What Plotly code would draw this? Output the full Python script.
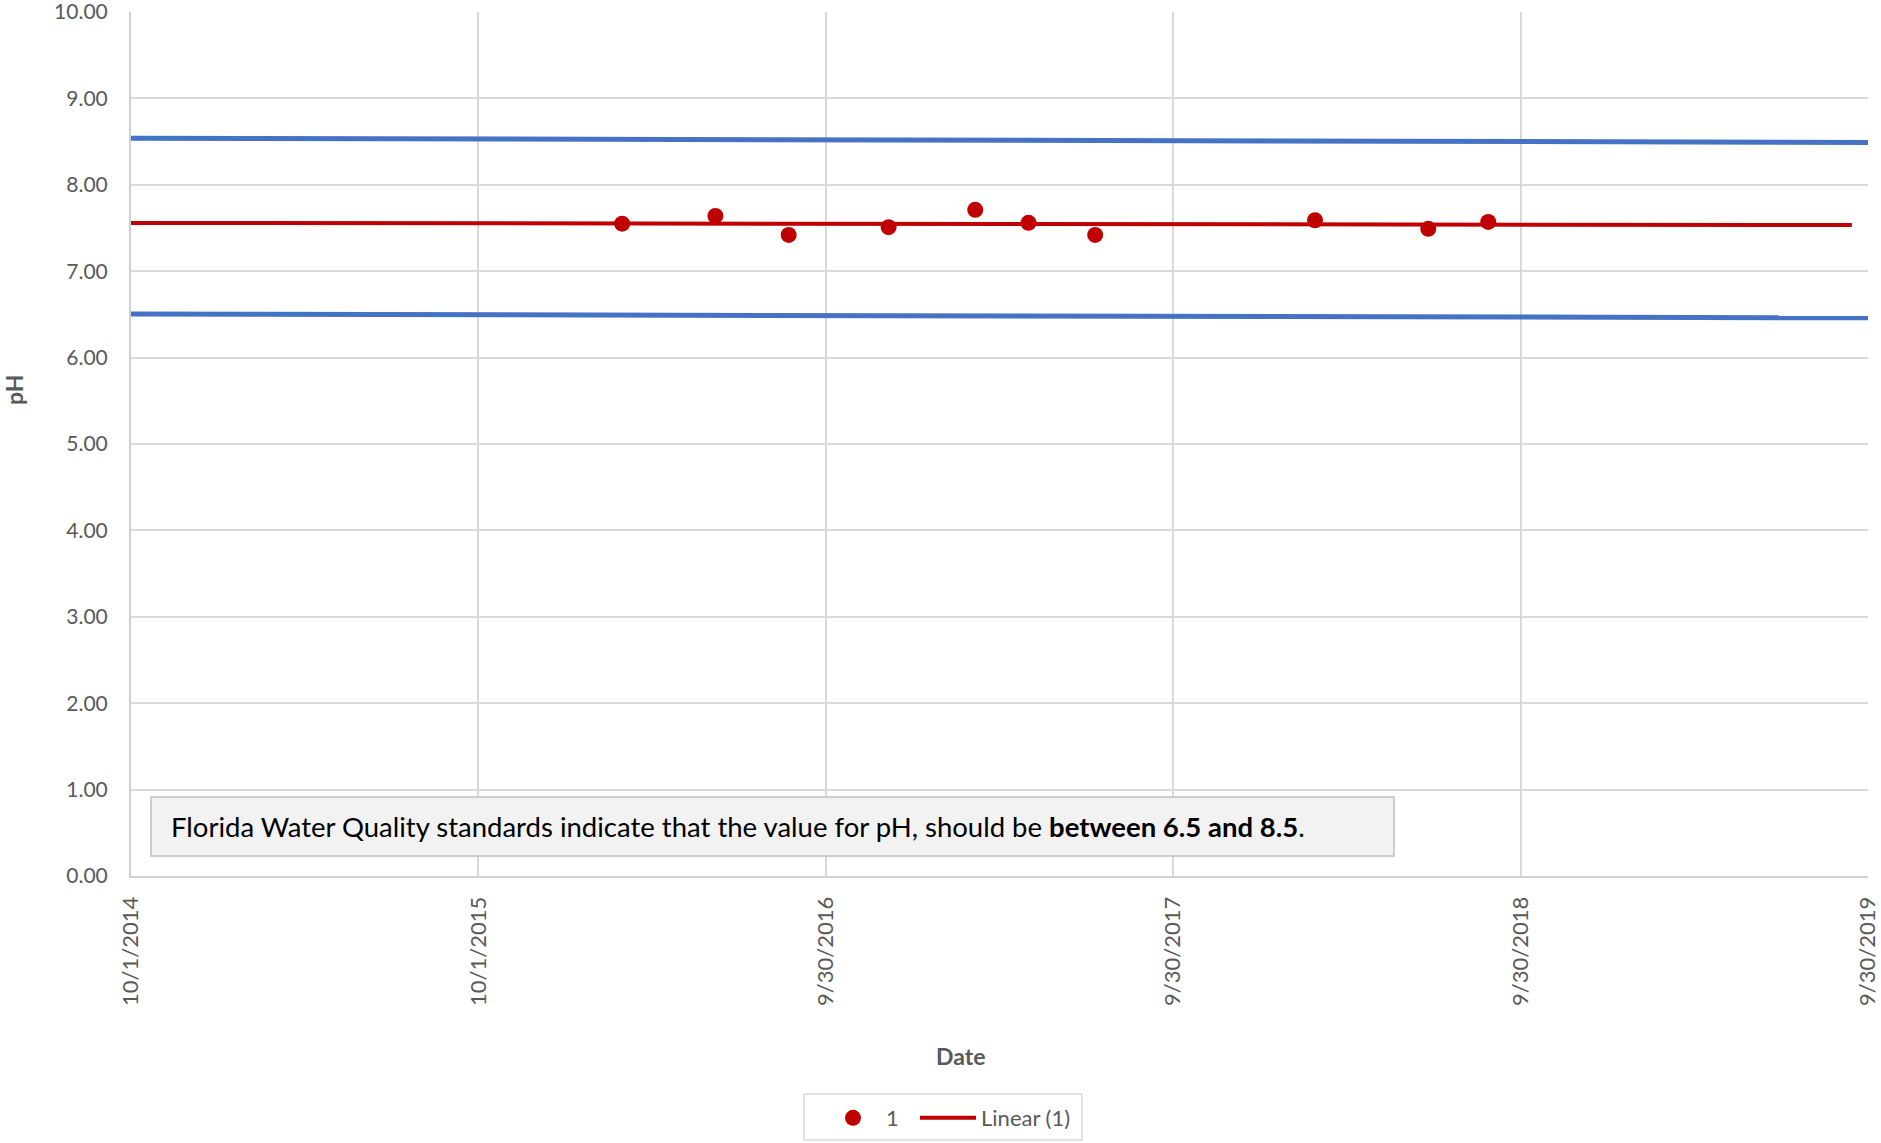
import numpy as np
import pandas as pd
import plotly.graph_objects as go

# Sample dates and measured pH values
sample_dates = [
    "2016-02-29", "2016-06-06", "2016-08-22", "2016-12-05", "2017-03-06",
    "2017-05-01", "2017-07-10", "2018-02-26", "2018-06-25", "2018-08-27",
]
ph_values = [7.55, 7.64, 7.42, 7.51, 7.71, 7.56, 7.42, 7.59, 7.49, 7.57]

# Axis ticks
x_tick_dates = ["2014-10-01", "2015-10-01", "2016-09-30", "2017-09-30", "2018-09-30", "2019-09-30"]
x_tick_labels = ["10/1/2014", "10/1/2015", "9/30/2016", "9/30/2017", "9/30/2018", "9/30/2019"]
y_tick_values = [0, 1, 2, 3, 4, 5, 6, 7, 8, 9, 10]

# Standard limit lines (start / end values across the date range)
limit_dates = ["2014-10-01", "2019-09-30"]
upper_limit = [8.54, 8.49]
lower_limit = [6.505, 6.46]

# Linear trendline span
trend_dates = ["2014-10-01", "2019-09-13"]

FONT = "Lato"
GRAY = "#595959"
RED = "#C00000"
BLUE = "#4472C4"

# Least-squares linear trend over the samples
t0 = pd.Timestamp(trend_dates[0])
days = np.array([(pd.Timestamp(d) - t0).days for d in sample_dates], dtype=float)
slope, intercept = np.polyfit(days, np.array(ph_values), 1)
trend_days = np.array([(pd.Timestamp(d) - t0).days for d in trend_dates], dtype=float)
trend_values = intercept + slope * trend_days

fig = go.Figure()

fig.add_trace(go.Scatter(
    x=limit_dates, y=upper_limit, mode="lines",
    line=dict(color=BLUE, width=5), showlegend=False, hoverinfo="skip",
))
fig.add_trace(go.Scatter(
    x=limit_dates, y=lower_limit, mode="lines",
    line=dict(color=BLUE, width=5), showlegend=False, hoverinfo="skip",
))
fig.add_trace(go.Scatter(
    x=sample_dates, y=ph_values, mode="markers", name="1&nbsp;&nbsp;",
    marker=dict(color=RED, size=16),
))
fig.add_trace(go.Scatter(
    x=trend_dates, y=trend_values, mode="lines", name="Linear (1)",
    line=dict(color=RED, width=4),
))

W, H = 1881, 1143
ML, MR, MT, MB = 131, 13, 12, 267
PW, PH = W - ML - MR, H - MT - MB


def px_x(px):
    return (px - ML) / PW


def px_y(py):
    return (H - MB - py) / PH


fig.update_layout(
    width=W, height=H,
    margin=dict(l=ML, r=MR, t=MT, b=MB, autoexpand=False),
    paper_bgcolor="white", plot_bgcolor="white",
    font=dict(family=FONT, color=GRAY, size=22),
    showlegend=True,
    legend=dict(
        orientation="h",
        x=px_x(820), y=px_y(1097), xanchor="left", yanchor="top",
        borderwidth=0, bgcolor="rgba(0,0,0,0)",
        itemwidth=56,
        font=dict(family=FONT, size=22, color=GRAY),
    ),
    xaxis=dict(
        type="date", automargin=False,
        range=[x_tick_dates[0], x_tick_dates[-1]],
        tickmode="array", tickvals=x_tick_dates, ticktext=x_tick_labels,
        tickangle=-90, ticklabeloverflow="allow",
        showgrid=True, gridcolor="#D9D9D9", gridwidth=2,
        showline=True, linecolor="#D0D0D0", linewidth=2,
        zeroline=False, ticks="",
        ticklabelstandoff=10,
        tickfont=dict(family=FONT, size=22, color=GRAY),
    ),
    yaxis=dict(
        range=[0, 10], automargin=False,
        tickmode="array", tickvals=y_tick_values, tickformat=".2f",
        ticklabeloverflow="allow",
        showgrid=True, gridcolor="#D9D9D9", gridwidth=2,
        showline=True, linecolor="#D0D0D0", linewidth=2,
        zeroline=False, ticks="",
        ticklabelstandoff=17,
        tickfont=dict(family=FONT, size=21, color=GRAY),
    ),
)

# Legend frame
fig.add_shape(
    type="rect", xref="paper", yref="paper",
    x0=px_x(804), x1=px_x(1082), y0=px_y(1140), y1=px_y(1094),
    fillcolor="rgba(0,0,0,0)", line=dict(color="#D9D9D9", width=1.5),
    layer="above",
)

# Note box about the water quality standard
fig.add_shape(
    type="rect", xref="paper", yref="paper",
    x0=px_x(151), x1=px_x(1394), y0=px_y(856), y1=px_y(797),
    fillcolor="#F2F2F2", line=dict(color="#BFBFBF", width=1.5),
    layer="above",
)
fig.add_annotation(
    xref="paper", yref="paper", x=px_x(169), y=px_y(826.5),
    xanchor="left", yanchor="middle", showarrow=False,
    text="Florida Water Quality standards indicate that the value for pH, should be <b>between 6.5 and 8.5</b>.",
    font=dict(family=FONT, size=27.5, color="#000000"),
)

# Axis titles
fig.add_annotation(
    xref="paper", yref="paper", x=px_x(960), y=px_y(1056),
    xanchor="center", yanchor="middle", showarrow=False,
    text="<b>Date</b>", font=dict(family=FONT, size=23, color=GRAY),
)
fig.add_annotation(
    xref="paper", yref="paper", x=px_x(14), y=px_y(390),
    xanchor="center", yanchor="middle", showarrow=False, textangle=-90,
    text="<b>pH</b>", font=dict(family=FONT, size=23, color=GRAY),
)

fig.write_html("out.html")
